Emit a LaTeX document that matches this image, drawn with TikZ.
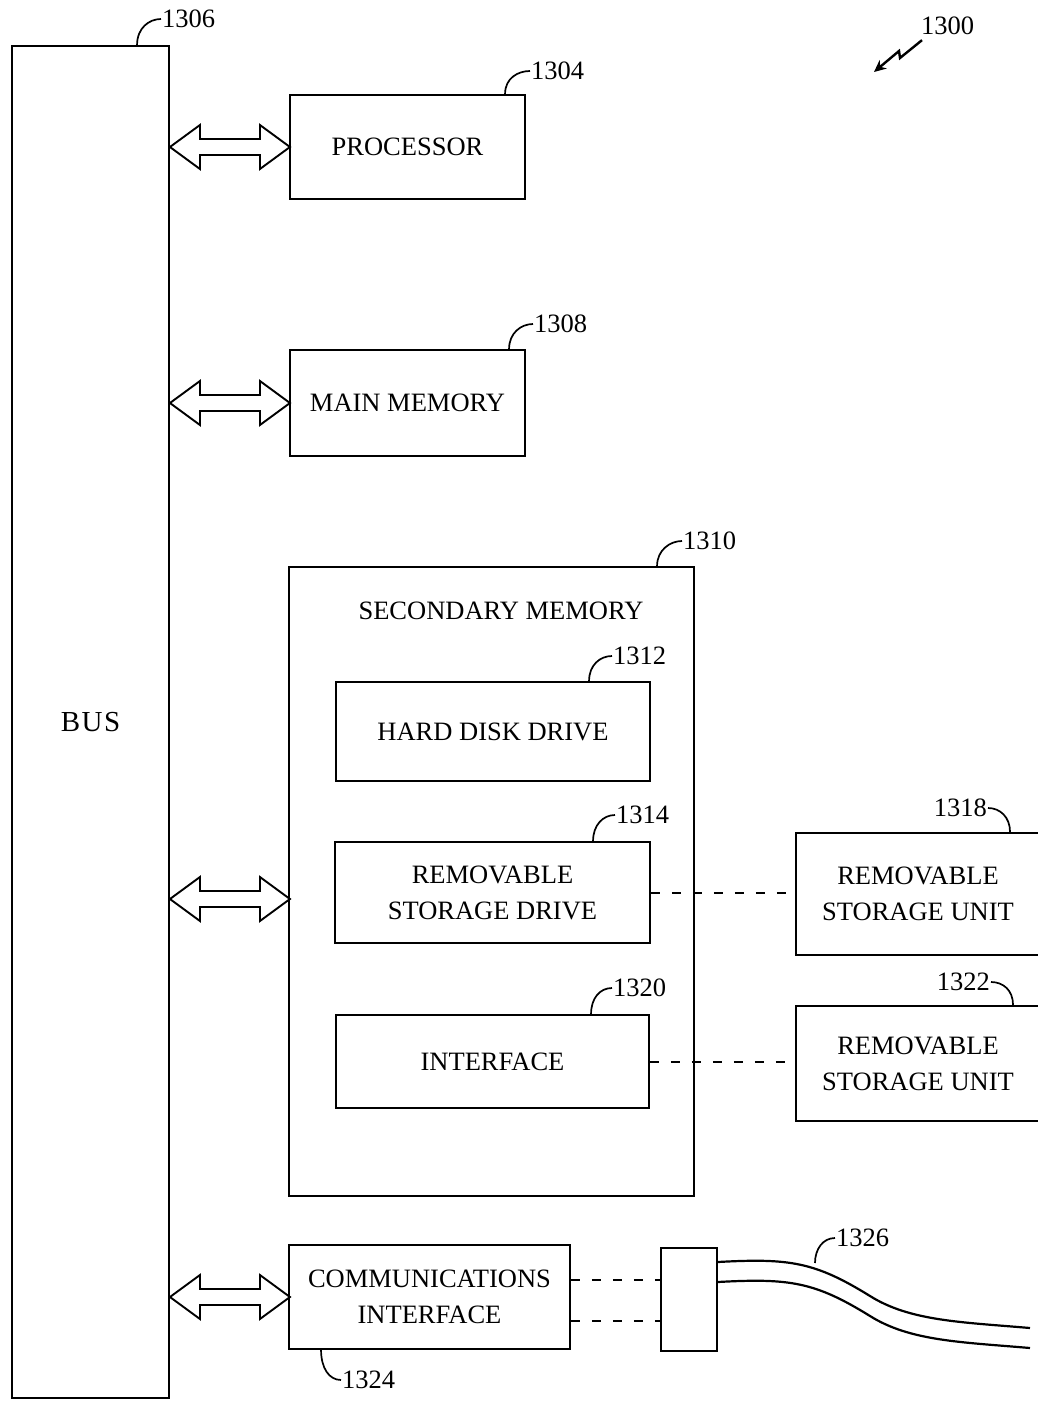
\documentclass[tikz,border=0pt]{standalone}
\usepackage{fontspec}
\setmainfont{Liberation Serif}
\usetikzlibrary{calc,arrows.meta}
\newcommand\dblarrow[1]{%
  \draw[dbl] (#1) -- ++(30,-22) -- ++(0,14) -- ++(60,0) -- ++(0,-14) -- ++(30,22)
    -- ++(-30,22) -- ++(0,-14) -- ++(-60,0) -- ++(0,14) -- cycle;}
\begin{document}
\begin{tikzpicture}[x=1pt,y=-1pt,
  box/.style={draw, line width=1.9pt, rectangle, inner sep=0pt, align=center,
    font=\fontsize{26.5}{36}\selectfont},
  lbl/.style={font=\fontsize{26.5}{30}\selectfont, inner sep=1pt},
  lead/.style={line width=1.7pt},
  dsh/.style={line width=2pt, dash pattern=on 9pt off 12pt},
  dbl/.style={line width=1.9pt, line join=miter},
  cable/.style={line width=2.2pt}]
\useasboundingbox (0,0) rectangle (1037,1401);

% boxes
\node[box, minimum width=157pt, minimum height=1352pt, font=\fontsize{29}{34}\selectfont] (bus) at (90.5,722) {B\kern1.5pt U\kern1.5pt S};
\node[box, minimum width=235pt, minimum height=104pt] (proc) at (407.5,147) {PROCESSOR};
\node[box, minimum width=235pt, minimum height=106pt] (mem) at (407.5,403) {MAIN MEMORY};
\node[box, minimum width=405pt, minimum height=629pt] (sec) at (491.5,881.5) {};
\node[font=\fontsize{26.5}{30}\selectfont, inner sep=0pt] (sectitle) at (501,611) {SECONDARY MEMORY};
\node[box, minimum width=314pt, minimum height=99pt] (hdd) at (493,731.5) {HARD DISK DRIVE};
\node[box, minimum width=315pt, minimum height=101pt] (rsd) at (492.5,892.5) {REMOVABLE\\STORAGE DRIVE};
\node[box, minimum width=313pt, minimum height=93pt] (intf) at (492.5,1061.5) {INTERFACE};
\node[box, minimum width=244pt, minimum height=122pt] (rsu1) at (918,894) {REMOVABLE\\STORAGE UNIT};
\node[box, minimum width=244pt, minimum height=115pt] (rsu2) at (918,1063.5) {REMOVABLE\\STORAGE UNIT};
\node[box, minimum width=281pt, minimum height=104pt] (comm) at (429.5,1297) {COMMUNICATIONS\\INTERFACE};
\node[box, minimum width=56pt, minimum height=103pt] (conn) at (689,1299.5) {};

% double arrows
\dblarrow{bus.east |- proc.west}
\dblarrow{bus.east |- mem.west}
\coordinate (secarr) at (sec.west |- 0,899);
\dblarrow{bus.east |- secarr}
\dblarrow{bus.east |- comm.west}

% dashed connections
\draw[dsh] (rsd.east) -- (rsd.east -| rsu1.west);
\draw[dsh] (intf.east) -- (intf.east -| rsu2.west);
\coordinate (c1) at ($(comm.east)+(0,-17)$);
\coordinate (c2) at ($(comm.east)+(0,24)$);
\draw[dsh] (c1) -- (c1 -| conn.west);
\draw[dsh] (c2) -- (c2 -| conn.west);

% cable
\coordinate (cu) at (conn.east |- 0,1262);
\coordinate (cl) at (conn.east |- 0,1282);
\coordinate (cuend) at (1030,1328);
\coordinate (clend) at (1030,1348);
\draw[cable] (cu) .. controls (790,1258) and (815,1262) .. (870,1296)
  .. controls (910,1321) and (960,1322) .. (cuend);
\draw[cable] (cl) .. controls (790,1278) and (815,1282) .. (870,1316)
  .. controls (910,1341) and (960,1342) .. (clend);

% labels
\node[lbl, anchor=west] (l1306) at (161,19) {1306};
\node[lbl, anchor=west] (l1304) at (530,71) {1304};
\node[lbl, anchor=west] (l1308) at (533,324) {1308};
\node[lbl, anchor=west] (l1310) at (682,541) {1310};
\node[lbl, anchor=west] (l1312) at (612,656) {1312};
\node[lbl, anchor=west] (l1314) at (615,815) {1314};
\node[lbl, anchor=west] (l1320) at (612,988) {1320};
\node[lbl, anchor=east] (l1318) at (988,808) {1318};
\node[lbl, anchor=east] (l1322) at (991,982) {1322};
\node[lbl, anchor=west] (l1324) at (341,1380) {1324};
\node[lbl, anchor=west] (l1326) at (835,1238) {1326};
\node[lbl, anchor=west] (l1300) at (920,26) {1300};

% leaders
\draw[lead] ($(bus.north west)+(126,0)$) .. controls +(0,-17) and +(-12,0) .. (l1306.west);
\draw[lead] ($(proc.north west)+(216,0)$) .. controls +(0,-16) and +(-12,0) .. (l1304.west);
\draw[lead] ($(mem.north west)+(220,0)$) .. controls +(0,-16) and +(-12,0) .. (l1308.west);
\draw[lead] ($(sec.north west)+(369,0)$) .. controls +(0,-16) and +(-12,0) .. (l1310.west);
\draw[lead] ($(hdd.north west)+(254,0)$) .. controls +(0,-16) and +(-12,0) .. (l1312.west);
\draw[lead] ($(rsd.north west)+(259,0)$) .. controls +(0,-16) and +(-12,0) .. (l1314.west);
\draw[lead] ($(intf.north west)+(256,0)$) .. controls +(0,-16) and +(-12,0) .. (l1320.west);
\draw[lead] (l1318.east) .. controls +(12,0) and +(0,-15) .. ($(rsu1.north west)+(215,0)$);
\draw[lead] (l1322.east) .. controls +(12,0) and +(0,-15) .. ($(rsu2.north west)+(218,0)$);
\draw[lead] ($(comm.south west)+(33,0)$) .. controls +(0,18) and +(-12,0) .. (l1324.west);
\coordinate (cabpt) at (815,1263);
\draw[lead] (cabpt) .. controls +(0,-14) and +(-12,0) .. (l1326.west);

% 1300 arrow
\draw[line width=2.4pt, -{Stealth[length=12pt,width=11pt]}]
  ($(l1300.south west)+(2,4)$) -- (900,58) -- (899,51) -- (874,72);
\end{tikzpicture}
\end{document}
